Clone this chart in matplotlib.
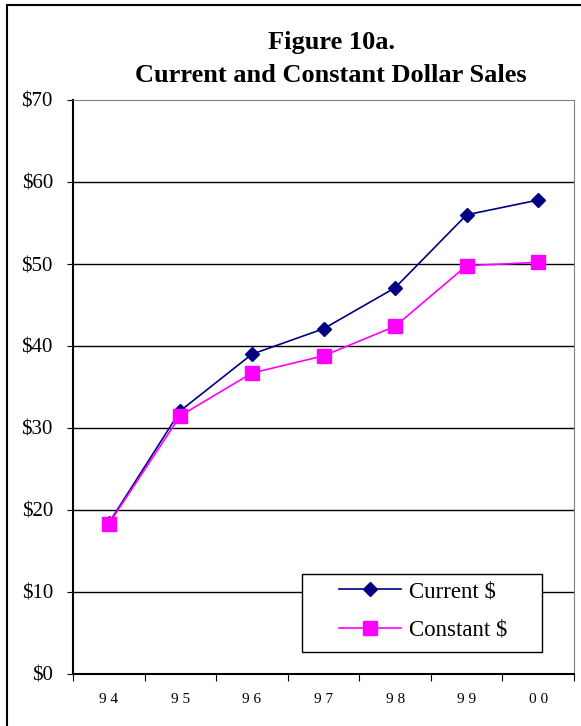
import matplotlib.pyplot as plt
from matplotlib.patches import Rectangle

years = ['94', '95', '96', '97', '98', '99', '00']
current = [18.4, 32.1, 39.0, 42.1, 47.1, 56.0, 57.8]
constant = [18.3, 31.5, 36.7, 38.8, 42.4, 49.8, 50.2]
y_ticks = [0, 10, 20, 30, 40, 50, 60, 70]

plt.rcParams['font.family'] = ['Liberation Serif', 'DejaVu Serif']

fig = plt.figure(figsize=(5.81, 7.26), dpi=100)
ax = fig.add_axes([73 / 581, 52 / 726, 501 / 581, 574 / 726])

# outer frame round the whole chart
fig.patches.append(Rectangle((7 / 581, -0.05), 1.2, (721 / 726) + 0.05, transform=fig.transFigure,
                             fill=False, edgecolor='black', linewidth=1.5))

x = list(range(len(years)))
ax.plot(x, current, color='#000080', marker='D', markersize=7, linewidth=1.2,
        markeredgecolor='#000080', label='Current $', zorder=3)
ax.plot(x, constant, color='#FF00FF', marker='s', markersize=9.5, linewidth=1.2,
        markeredgecolor='#FF00FF', label='Constant $', zorder=3)

ax.set_xlim(-0.5, len(years) - 0.5)
ax.set_ylim(0, 70)
ax.set_yticks(y_ticks)
ax.set_yticklabels(['${}'.format(v) for v in y_ticks], fontsize=15)
ax.set_xticks([i + 0.5 for i in range(-1, len(years))], minor=False)
ax.set_xticklabels([])
ax.set_xticks(x, minor=True)
ax.set_xticklabels([' '.join(y) for y in years], minor=True, fontsize=11)
ax.tick_params(axis='x', which='major', length=5, direction='out')
ax.tick_params(axis='x', which='minor', length=0, pad=14)
ax.tick_params(axis='y', length=4.5, direction='out', pad=10)

for v in y_ticks[1:-1]:
    ax.axhline(v, color='black', linewidth=1, zorder=1)

ax.spines['left'].set_linewidth(1.5)
ax.spines['bottom'].set_linewidth(1.5)
ax.spines['top'].set_color('#808080')
ax.spines['right'].set_color('#808080')

# legend box drawn separately so it can be wider than the entries
ax.add_patch(Rectangle((229 / 501, 22 / 574), 240 / 501, 78 / 574, transform=ax.transAxes,
                       facecolor='white', edgecolor='black', linewidth=1, zorder=4))
leg = ax.legend(loc='center left', bbox_to_anchor=(255 / 501, 63 / 574), fontsize=16.5,
                frameon=False, borderpad=0, handlelength=2.7, handletextpad=0.35,
                labelspacing=0.75)
leg.set_zorder(5)

fig.text(332 / 581, 1 - 42 / 726, 'Figure 10a.', ha='center', va='center',
         fontsize=19, fontweight='bold')
fig.text(331 / 581, 1 - 76 / 726, 'Current and Constant Dollar Sales', ha='center', va='center',
         fontsize=19, fontweight='bold')

fig.savefig('out.png', dpi=100)
